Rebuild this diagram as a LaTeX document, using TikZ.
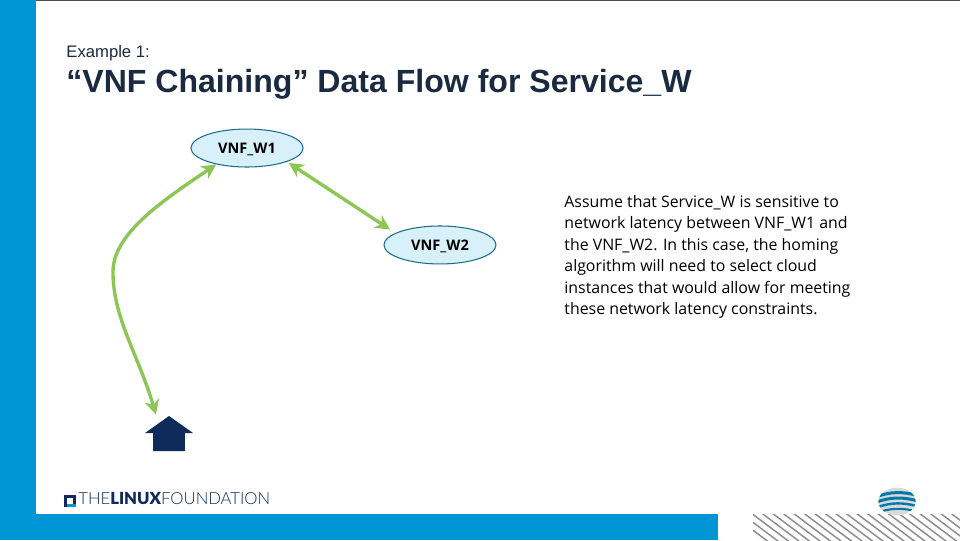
\documentclass[tikz,border=0pt]{standalone}
\usepackage{fontspec}
\setmainfont{Liberation Sans}
\newfontfamily\notefont{Open Sans}
\newfontfamily\logofont{Lato Light}
\newfontfamily\logoheavy{Lato Black}
\usetikzlibrary{arrows.meta,shapes.geometric}
\definecolor{barblue}{HTML}{0096D6}
\definecolor{flowgreen}{HTML}{8CC654}
\definecolor{homeblue}{HTML}{0F2B5C}
\definecolor{vnffill}{HTML}{D7F0FA}
\definecolor{vnfline}{HTML}{1C6E8C}
\definecolor{titleink}{HTML}{1A2A40}
\tikzset{
  vnf/.style={ellipse,draw=vnfline,fill=vnffill,line width=0.5pt,inner sep=0pt,minimum width=1.867cm,minimum height=0.633cm,text height=4.8pt,text depth=0pt,font=\notefont\fontsize{6.9}{8}\selectfont\bfseries},
  flow/.style={draw=flowgreen,line width=1.6pt,{Stealth[length=7pt,width=7pt]}-{Stealth[length=7pt,width=7pt]}}
}
\begin{document}
\begin{tikzpicture}
\useasboundingbox (0,0) rectangle (16,9);
% frame
\fill[white] (0,0) rectangle (16,9);
\fill[black!70] (0,8.98) rectangle (16,9);
\fill[barblue] (0,0) rectangle (0.6,9);
\fill[barblue] (0,0) rectangle (11.967,0.433);
% hatch corner
\begin{scope}
\clip (12.55,0) rectangle (16,0.433);
\foreach \x in {12.1,12.275,...,16.2} {
  \draw[black!45,line width=0.7pt] (\x,0.5) -- ++(0.8,-0.6);
}
\end{scope}
% globe
\begin{scope}
\clip (14.95,0.642) ellipse [x radius=0.31,y radius=0.23];
\fill[black!15] (14.6,0.4) rectangle (15.3,0.9);
\foreach \y/\w in {0.78/0.05,0.69/0.05,0.60/0.04,0.51/0.035} {
  \draw[barblue!80!black,line width=\w cm] (14.6,\y-0.06) .. controls (14.85,\y+0.03) and (15.05,\y+0.03) .. (15.3,\y-0.04);
}
\end{scope}
% texts
\node[anchor=west,inner sep=0pt,text=titleink,font=\fontsize{7.9}{9}\selectfont] (example) at (1.1,8.117) {Example 1:};
\node[anchor=west,inner sep=0pt,text=titleink,font=\bfseries\fontsize{15.2}{17}\selectfont] (title) at (1.1,7.6) {“VNF Chaining” Data Flow for Service\_W};
\node[anchor=west,inner sep=0pt,align=left,font=\notefont\fontsize{7.53}{10.2}\selectfont] (note) at (9.4,4.717) {Assume that Service\_W is sensitive to\\network latency between VNF\_W1 and\\the VNF\_W2.  In this case, the homing\\algorithm will need to select cloud\\instances that would allow for meeting\\these network latency constraints.};
% logo
\fill[homeblue] (1.067,0.55) rectangle (1.267,0.75);
\fill[white] (1.117,0.6) rectangle (1.217,0.7);
\fill[barblue] (1.117,0.55) rectangle (1.267,0.6);
\node[anchor=west,inner sep=0pt,text=homeblue,font=\logofont\fontsize{7.9}{9}\selectfont] (logo) at (1.3,0.7) {THE{\logoheavy LINUX}FOUNDATION};
% home
\fill[homeblue] (2.55,1.483) -- (2.55,1.783) -- (2.417,1.783) -- (2.817,2.067) -- (3.217,1.783) -- (3.083,1.783) -- (3.083,1.483) -- cycle;
\coordinate (home) at (2.6,2.09);
% vnfs
\node[vnf] (vnfa) at (4.117,6.533) {VNF\_W1};
\node[vnf] (vnfb) at (7.333,4.917) {VNF\_W2};
\coordinate (bend) at (1.883,4.47);
% flows
\draw[flow,shorten <=1pt,shorten >=3pt] (vnfa.-19) -- (vnfb.165);
\draw[flow] (home) .. controls (2.3,3.1) and (1.883,3.7) .. (bend) .. controls (1.883,5.1) and (2.7,5.65) .. (vnfa.-152);
\end{tikzpicture}
\end{document}
